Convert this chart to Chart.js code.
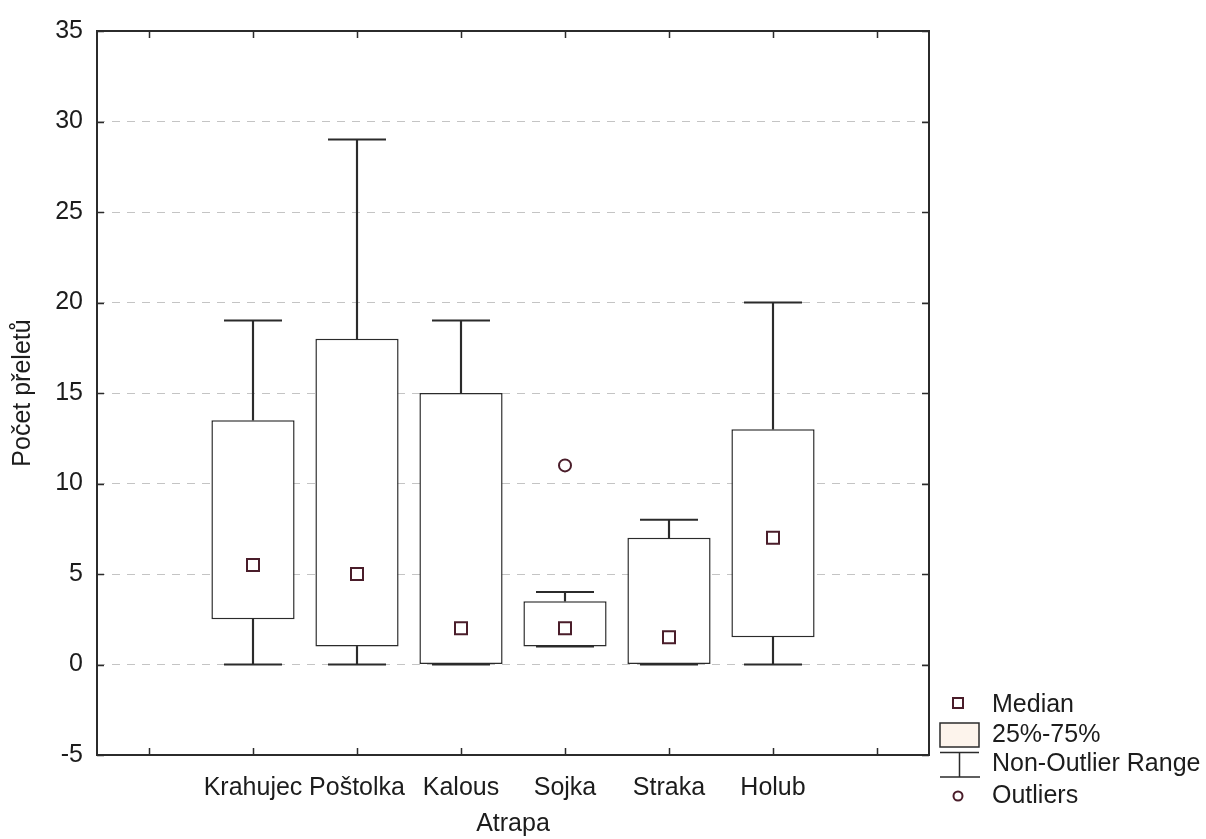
<!DOCTYPE html>
<html>
<head>
<meta charset="utf-8">
<script src="https://cdn.jsdelivr.net/npm/chart.js@4/dist/chart.umd.min.js"></script>
<style>
  html, body { margin: 0; padding: 0; background: #ffffff; }
  #wrap { width: 1206px; height: 839px; position: relative; }
</style>
</head>
<body>
<div id="wrap"><canvas id="c" width="1206" height="839"></canvas></div>
<script>
// ---- data ----
const categories = ['', 'Krahujec', 'Poštolka', 'Kalous', 'Sojka', 'Straka', 'Holub', ''];
const whiskerLow  = [null, 0,    0,  0,  1,   0,   0,    null];
const q1          = [null, 2.5,  1,  0,  1,   0,   1.5,  null];
const median      = [null, 5.5,  5,  2,  2,   1.5, 7,    null];
const q3          = [null, 13.5, 18, 15, 3.5, 7,   13,   null];
const whiskerHigh = [null, 19,   29, 19, 4,   8,   20,   null];
const outliers    = [null, null, null, null, 11, null, null, null];
const yMin = -5, yMax = 35, yStep = 5;
const xTitle = 'Atrapa';
const yTitle = 'Počet přeletů';
const legendLabels = ['Median', '25%-75%', 'Non-Outlier Range', 'Outliers'];

// ---- styles ----
const FONT = "'Liberation Sans', Arial, sans-serif";
const LINE = '#2b2b2b';
const MED = '#4a1d2a';
const TEXT = '#1c1c1c';

Chart.defaults.font.family = FONT;
Chart.defaults.color = TEXT;

const boxData = q1.map((v, i) => v === null ? null : [v, q3[i]]);
const upperWhisker = q3.map((v, i) => v === null ? null : [v, whiskerHigh[i]]);
const lowerWhisker = q1.map((v, i) => v === null ? null : [whiskerLow[i], v]);

const framePlugin = {
  id: 'frame',
  afterDraw(chart) {
    const { ctx, chartArea: a, scales: { x, y } } = chart;
    ctx.save();
    ctx.strokeStyle = LINE;
    ctx.lineWidth = 2;
    ctx.strokeRect(a.left, a.top, a.right - a.left, a.bottom - a.top);
    // inward ticks
    ctx.lineWidth = 1.5;
    ctx.beginPath();
    for (let v = yMin; v <= yMax; v += yStep) {
      const py = Math.round(y.getPixelForValue(v)) + 0.5;
      ctx.moveTo(a.left, py); ctx.lineTo(a.left + 7, py);
      ctx.moveTo(a.right, py); ctx.lineTo(a.right - 7, py);
    }
    for (let i = 0; i < categories.length; i++) {
      const px = Math.round(x.getPixelForTick(i)) + 0.5;
      ctx.moveTo(px, a.bottom); ctx.lineTo(px, a.bottom - 7);
      ctx.moveTo(px, a.top); ctx.lineTo(px, a.top + 7);
    }
    ctx.stroke();

    // legend
    const lx = 940, tx = 992;
    ctx.font = '25px ' + FONT;
    ctx.fillStyle = TEXT;
    ctx.textBaseline = 'middle';
    ctx.textAlign = 'left';
    // median
    ctx.fillStyle = '#ffffff';
    ctx.fillRect(953, 698, 10, 10);
    ctx.strokeStyle = MED; ctx.lineWidth = 2;
    ctx.strokeRect(953, 698, 10, 10);
    ctx.fillStyle = TEXT;
    ctx.fillText(legendLabels[0], tx, 705);
    // box
    ctx.fillStyle = '#fdf4ec';
    ctx.fillRect(lx, 723, 39, 24);
    ctx.strokeStyle = LINE; ctx.lineWidth = 1.5;
    ctx.strokeRect(lx, 723, 39, 24);
    ctx.fillStyle = TEXT;
    ctx.fillText(legendLabels[1], tx, 735);
    // whisker
    ctx.beginPath();
    ctx.moveTo(lx, 752.5); ctx.lineTo(lx + 39, 752.5);
    ctx.moveTo(959.5, 752.5); ctx.lineTo(959.5, 777);
    ctx.moveTo(lx, 777); ctx.lineTo(lx + 40, 777);
    ctx.stroke();
    ctx.fillText(legendLabels[2], tx, 764);
    // outliers
    ctx.beginPath();
    ctx.arc(958, 796, 4.5, 0, Math.PI * 2);
    ctx.fillStyle = '#fff'; ctx.fill();
    ctx.strokeStyle = MED; ctx.lineWidth = 2; ctx.stroke();
    ctx.fillStyle = TEXT;
    ctx.fillText(legendLabels[3], tx, 796);
    ctx.restore();
  }
};

new Chart(document.getElementById('c'), {
  type: 'bar',
  data: {
    labels: categories,
    datasets: [
      {
        label: '25%-75%',
        data: boxData,
        backgroundColor: '#ffffff',
        borderColor: LINE,
        borderWidth: 1.5,
        borderSkipped: false,
        grouped: false,
        barPercentage: 0.8,
        categoryPercentage: 1,
        order: 5
      },
      {
        label: 'upper',
        data: upperWhisker,
        backgroundColor: LINE,
        borderWidth: 0,
        barThickness: 1.5,
        grouped: false,
        order: 4
      },
      {
        label: 'lower',
        data: lowerWhisker,
        backgroundColor: LINE,
        borderWidth: 0,
        barThickness: 1.5,
        grouped: false,
        order: 4
      },
      {
        type: 'line',
        label: 'capHigh',
        data: whiskerHigh,
        showLine: false,
        pointStyle: 'line',
        pointRadius: 29,
        borderColor: LINE,
        borderWidth: 2,
        order: 3
      },
      {
        type: 'line',
        label: 'capLow',
        data: whiskerLow,
        showLine: false,
        pointStyle: 'line',
        pointRadius: 29,
        borderColor: LINE,
        borderWidth: 2,
        order: 3
      },
      {
        type: 'line',
        label: 'Median',
        data: median,
        showLine: false,
        pointStyle: 'rect',
        pointRadius: 8.5,
        pointBackgroundColor: '#ffffff',
        pointBorderColor: MED,
        pointBorderWidth: 2,
        order: 1
      },
      {
        type: 'line',
        label: 'Outliers',
        data: outliers,
        showLine: false,
        pointStyle: 'circle',
        pointRadius: 6,
        pointBackgroundColor: '#ffffff',
        pointBorderColor: MED,
        pointBorderWidth: 2,
        order: 1
      }
    ]
  },
  options: {
    responsive: false,
    animation: false,
    events: [],
    layout: { padding: { top: 28, right: 277, left: 0, bottom: 0 } },
    plugins: { legend: { display: false }, tooltip: { enabled: false } },
    scales: {
      x: {
        offset: true,
        afterFit(s) { s.height = 84; },
        grid: { display: false },
        border: { display: false },
        ticks: { font: { size: 25 }, color: TEXT, padding: 10, maxRotation: 0, autoSkip: false },
        title: { display: true, text: xTitle, font: { size: 25 }, color: TEXT, padding: { top: 0, bottom: 0 } }
      },
      y: {
        min: yMin, max: yMax,
        afterFit(s) { s.width = 97; },
        grid: { color: '#c4c4c4', lineWidth: 1, drawTicks: false },
        border: { display: false, dash: [8, 7] },
        ticks: { stepSize: yStep, font: { size: 25 }, color: TEXT, padding: 14 },
        title: { display: true, text: yTitle, font: { size: 25 }, color: TEXT, padding: { top: 8, bottom: 0 } }
      }
    }
  },
  plugins: [framePlugin]
});
</script>
</body>
</html>
